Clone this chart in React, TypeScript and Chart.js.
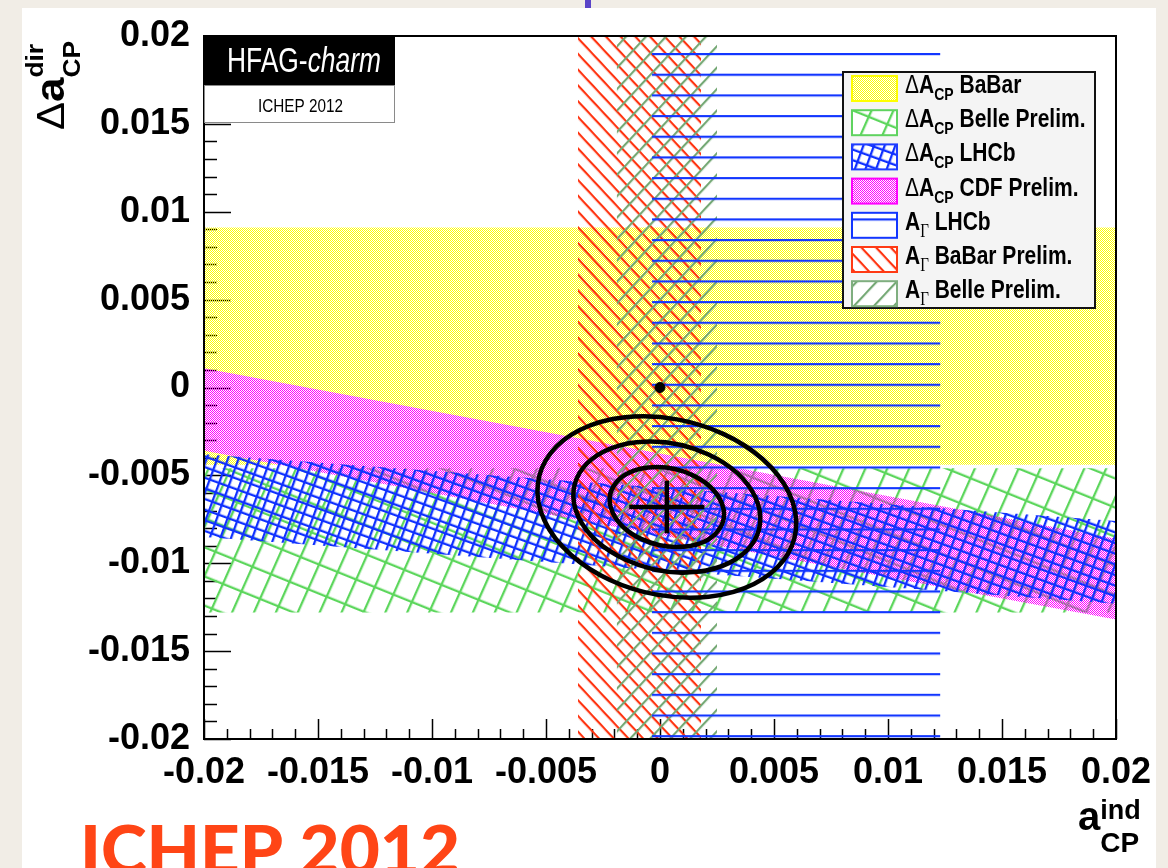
import React, { useEffect, useRef } from 'react';
import { Chart, registerables } from 'chart.js';

Chart.register(...registerables);

const CANVAS_W = 1168;
const CANVAS_H = 868;

// Axis ranges and ticks
const X_MIN = -0.02;
const X_MAX = 0.02;
const Y_MIN = -0.02;
const Y_MAX = 0.02;
const MAJOR_STEP = 0.005;
const MINOR_STEP = 0.001;

// ΔA_CP bands: Δa_dir edges at a_ind = -0.02 and a_ind = +0.02
const BAND_EDGES_X = [-0.02, 0.02];
const BELLE_DACP_HIGH = [-0.0046, -0.0046];
const BELLE_DACP_LOW = [-0.0128, -0.0128];
const BABAR_DACP_HIGH = [0.0091, 0.0091];
const BABAR_DACP_LOW = [-0.0044, -0.0044];
const CDF_DACP_HIGH = [0.0011, -0.0086];
const CDF_DACP_LOW = [-0.0036, -0.0132];
const LHCB_DACP_HIGH = [-0.0038, -0.0076];
const LHCB_DACP_LOW = [-0.0085, -0.0123];

// A_Γ bands: a_ind intervals
const LHCB_AGAMMA = [-0.00035, 0.0123];
const BABAR_AGAMMA = [-0.0036, 0.0018];
const BELLE_AGAMMA = [-0.0019, 0.0025];

// Combined fit
const FIT_CENTER = [0.0003, -0.0068];
const FIT_SIGMA = [0.00165, 0.0015];
const FIT_RHO = -0.18;
const CONTOUR_DCHI2 = [2.3, 6.18, 11.83];
const NO_CPV = [0, 0];

// Legend
const LEGEND_KIND = ['dacp', 'dacp', 'dacp', 'dacp', 'ag', 'ag', 'ag'];
const LEGEND_NAMES = ['BaBar', 'Belle Prelim.', 'LHCb', 'CDF Prelim.', 'LHCb', 'BaBar Prelim.', 'Belle Prelim.'];
const LEGEND_COLORS = ['#ffff00', '#5fd35f', '#1f3cff', '#ff00ff', '#1236ff', '#ff3a14', '#7fae7f'];

const SANS = '"Liberation Sans", Arial, Helvetica, sans-serif';
const SERIF = '"Liberation Serif", "Times New Roman", serif';

function makeTile(w: number, h: number) {
  const c = document.createElement('canvas');
  c.width = w;
  c.height = h;
  return c;
}

function dotPattern(color: string) {
  const c = makeTile(2, 2);
  const g = c.getContext('2d')!;
  g.fillStyle = color;
  g.fillRect(0, 0, 1, 1);
  g.fillRect(1, 1, 1, 1);
  return g.createPattern(c, 'repeat')!;
}

function hatchPattern(color: string, angle: number, spacing: number, width: number, offsetY = 0) {
  const n = Math.max(2, Math.round(spacing));
  const c = makeTile(8, n);
  const g = c.getContext('2d')!;
  g.fillStyle = color;
  g.fillRect(0, 0, 8, width);
  const p = g.createPattern(c, 'repeat')!;
  p.setTransform(new DOMMatrix().translate(0, offsetY).rotate(angle).scale(1, spacing / n));
  return p;
}

function gridPattern(color: string, a1: number, s1: number, a2: number, s2: number, width: number) {
  const tw = Math.round(s2);
  const th = Math.round(s1);
  const c = makeTile(tw, th);
  const g = c.getContext('2d')!;
  g.fillStyle = color;
  g.fillRect(0, 0, tw, width);
  g.fillRect(0, 0, width, th);
  const p = g.createPattern(c, 'repeat')!;
  const r1 = (a1 * Math.PI) / 180;
  const r2 = (a2 * Math.PI) / 180;
  const sp = Math.abs(Math.sin(r2 - r1));
  p.setTransform(
    new DOMMatrix([Math.cos(r1) / sp, Math.sin(r1) / sp, Math.cos(r2) / sp, Math.sin(r2) / sp, 0, 0])
  );
  return p;
}

type Part = { t: string; font: string; dy?: number; hold?: boolean };

function partsWidth(ctx: CanvasRenderingContext2D, parts: Part[]) {
  let cx = 0;
  let held = 0;
  for (const p of parts) {
    ctx.font = p.font;
    const w = ctx.measureText(p.t).width;
    if (p.hold) held = Math.max(held, w);
    else {
      cx += Math.max(w, held);
      held = 0;
    }
  }
  return cx;
}

function drawParts(
  ctx: CanvasRenderingContext2D,
  parts: Part[],
  x: number,
  y: number,
  opts: { width?: number; sy?: number; sx?: number; color?: string; rotate?: number } = {}
) {
  ctx.save();
  ctx.fillStyle = opts.color || '#000';
  ctx.textBaseline = 'alphabetic';
  ctx.textAlign = 'left';
  ctx.translate(x, y);
  if (opts.rotate) ctx.rotate(opts.rotate);
  let sx = opts.sx || 1;
  if (opts.width) sx = opts.width / partsWidth(ctx, parts);
  ctx.scale(sx, opts.sy || 1);
  let cx = 0;
  let held = 0;
  for (const p of parts) {
    ctx.font = p.font;
    ctx.fillText(p.t, cx, p.dy || 0);
    const w = ctx.measureText(p.t).width;
    if (p.hold) held = Math.max(held, w);
    else {
      cx += Math.max(w, held);
      held = 0;
    }
  }
  ctx.restore();
}

function fmtTick(v: number) {
  const r = Math.round(v * 1000) / 1000;
  return r === 0 ? '0' : String(r);
}

export default function App() {
  const ref = useRef<HTMLCanvasElement>(null);

  useEffect(() => {
    const canvas = ref.current!;
    const P = {
      babarDA: dotPattern('#ffff00'),
      cdfDA: dotPattern('#ff00ff'),
      lhcbDA: gridPattern('#0f30ff', 20, 9.5, -70, 9.5, 2.3),
      belleDA: gridPattern('#5cd65c', 22, 27, -66, 20, 2.3),
      lhcbAG: hatchPattern('#1236ff', 0, 20.67, 2.2, 53),
      babarAG: hatchPattern('#ff3310', 47, 10.75, 2.2),
      belleAG: hatchPattern('#74a874', -47, 14.6, 2.2),
    };
    const legendFills = [P.babarDA, P.belleDA, P.lhcbDA, P.cdfDA, P.lhcbAG, P.babarAG, P.belleAG];

    const lineDs = (data: { x: number; y: number }[], extra: any = {}) => ({
      type: 'line',
      data,
      borderColor: 'rgba(0,0,0,0)',
      borderWidth: 0,
      pointRadius: 0,
      pointHoverRadius: 0,
      fill: false,
      tension: 0,
      ...extra,
    });
    const bandEdge = (ys: number[]) => BAND_EDGES_X.map((x, i) => ({ x, y: ys[i] }));
    const verticalBand = (xs: number[]) => xs.map((x) => ({ x, y: Y_MAX }));

    // lower index = drawn on top
    const datasets: any[] = [
      lineDs(
        [
          { x: FIT_CENTER[0] - FIT_SIGMA[0], y: FIT_CENTER[1] },
          { x: FIT_CENTER[0] + FIT_SIGMA[0], y: FIT_CENTER[1] },
        ],
        { label: 'fit x', borderColor: '#000', borderWidth: 4.5 }
      ),
      lineDs(
        [
          { x: FIT_CENTER[0], y: FIT_CENTER[1] - FIT_SIGMA[1] },
          { x: FIT_CENTER[0], y: FIT_CENTER[1] + FIT_SIGMA[1] },
        ],
        { label: 'fit y', borderColor: '#000', borderWidth: 4.5 }
      ),
      {
        type: 'scatter',
        label: 'no CPV',
        data: [{ x: NO_CPV[0], y: NO_CPV[1] }],
        pointRadius: 5,
        pointBackgroundColor: '#000',
        backgroundColor: '#000',
        pointBorderColor: '#000',
        pointBorderWidth: 1,
        borderWidth: 0,
      },
      lineDs(verticalBand(LHCB_AGAMMA), { label: 'A_Γ LHCb', fill: 'start', backgroundColor: P.lhcbAG }),
      lineDs(verticalBand(BELLE_AGAMMA), { label: 'A_Γ Belle Prelim.', fill: 'start', backgroundColor: P.belleAG }),
      lineDs(verticalBand(BABAR_AGAMMA), { label: 'A_Γ BaBar Prelim.', fill: 'start', backgroundColor: P.babarAG }),
      lineDs(bandEdge(LHCB_DACP_HIGH), { label: 'ΔA_CP LHCb', fill: '+1', backgroundColor: P.lhcbDA }),
      lineDs(bandEdge(LHCB_DACP_LOW)),
      lineDs(bandEdge(CDF_DACP_HIGH), { label: 'ΔA_CP CDF Prelim.', fill: '+1', backgroundColor: P.cdfDA }),
      lineDs(bandEdge(CDF_DACP_LOW)),
      lineDs(bandEdge(BABAR_DACP_HIGH), { label: 'ΔA_CP BaBar', fill: '+1', backgroundColor: P.babarDA }),
      lineDs(bandEdge(BABAR_DACP_LOW)),
      lineDs(bandEdge(BELLE_DACP_HIGH), { label: 'ΔA_CP Belle Prelim.', fill: '+1', backgroundColor: P.belleDA }),
      lineDs(bandEdge(BELLE_DACP_LOW)),
    ];

    const decor = {
      id: 'decor',
      beforeDraw(chart: any) {
        const { ctx, chartArea: a, scales } = chart;
        const xs = scales.x;
        const ys = scales.y;
        ctx.save();
        ctx.strokeStyle = '#000';
        ctx.lineWidth = 1.5;
        ctx.beginPath();
        const nx = Math.round((X_MAX - X_MIN) / MINOR_STEP);
        const per = Math.round(MAJOR_STEP / MINOR_STEP);
        for (let i = 0; i <= nx; i++) {
          const px = Math.round(xs.getPixelForValue(X_MIN + i * MINOR_STEP)) + 0.5;
          const len = i % per === 0 ? 20 : 10;
          ctx.moveTo(px, a.bottom);
          ctx.lineTo(px, a.bottom - len);
        }
        const ny = Math.round((Y_MAX - Y_MIN) / MINOR_STEP);
        for (let i = 0; i <= ny; i++) {
          const py = Math.round(ys.getPixelForValue(Y_MIN + i * MINOR_STEP)) + 0.5;
          const len = i % per === 0 ? 27 : 13;
          ctx.moveTo(a.left, py);
          ctx.lineTo(a.left + len, py);
        }
        ctx.stroke();
        ctx.restore();
      },
      afterDatasetsDraw(chart: any) {
        const { ctx, chartArea: a, scales } = chart;
        const xs = scales.x;
        const ys = scales.y;
        const [cx, cy] = FIT_CENTER;
        const [sx, sy] = FIT_SIGMA;
        const cxx = sx * sx;
        const cyy = sy * sy;
        const cxy = FIT_RHO * sx * sy;
        const tr = cxx + cyy;
        const det = cxx * cyy - cxy * cxy;
        const disc = Math.sqrt(Math.max(0, (tr * tr) / 4 - det));
        const l1 = tr / 2 + disc;
        const l2 = tr / 2 - disc;
        const ang = Math.atan2(l1 - cxx, cxy);
        const px0 = xs.getPixelForValue(cx);
        const py0 = ys.getPixelForValue(cy);
        const kx = (xs.getPixelForValue(cx + 0.001) - px0) * 1000;
        const ky = (ys.getPixelForValue(cy + 0.001) - py0) * 1000;
        ctx.save();
        ctx.beginPath();
        ctx.rect(a.left, a.top, a.right - a.left, a.bottom - a.top);
        ctx.clip();
        ctx.strokeStyle = '#000';
        ctx.lineWidth = 4.5;
        for (const k of CONTOUR_DCHI2) {
          ctx.save();
          ctx.translate(px0, py0);
          ctx.scale(kx, ky);
          ctx.beginPath();
          ctx.ellipse(0, 0, Math.sqrt(k * l1), Math.sqrt(k * l2), ang, 0, Math.PI * 2);
          ctx.restore();
          ctx.stroke();
        }
        ctx.restore();
      },
      afterDraw(chart: any) {
        const { ctx, chartArea: a } = chart;
        ctx.save();
        // frame
        ctx.strokeStyle = '#000';
        ctx.lineWidth = 2;
        ctx.strokeRect(a.left, a.top, a.right - a.left, a.bottom - a.top);

        // HFAG label
        ctx.fillStyle = '#000';
        ctx.fillRect(204, 36, 191, 49);
        ctx.fillStyle = '#fff';
        ctx.fillRect(204, 85, 191, 38);
        ctx.strokeStyle = '#8a8a8a';
        ctx.lineWidth = 1;
        ctx.strokeRect(204.5, 85.5, 190, 37);
        drawParts(
          ctx,
          [
            { t: 'HFAG-', font: `26px ${SANS}` },
            { t: 'charm', font: `italic 26px ${SANS}` },
          ],
          227,
          72,
          { width: 154, sy: 1.33, color: '#fff' }
        );
        drawParts(ctx, [{ t: 'ICHEP 2012', font: `15px ${SANS}` }], 258, 112, { width: 85, sy: 1.2 });

        // legend
        ctx.fillStyle = '#f4f4f4';
        ctx.fillRect(843, 72, 252, 236);
        ctx.strokeStyle = '#111';
        ctx.lineWidth = 2;
        ctx.strokeRect(843, 72, 252, 236);
        for (let i = 0; i < LEGEND_NAMES.length; i++) {
          const top = 76 + i * 34.2;
          ctx.fillStyle = '#fff';
          ctx.fillRect(852, top, 45, 25);
          ctx.fillStyle = legendFills[i];
          ctx.fillRect(852, top, 45, 25);
          ctx.strokeStyle = LEGEND_COLORS[i];
          ctx.lineWidth = 2;
          ctx.strokeRect(852, top, 45, 25);
          const parts: Part[] =
            LEGEND_KIND[i] === 'dacp'
              ? [
                  { t: 'Δ', font: `21px ${SANS}` },
                  { t: 'A', font: `bold 21px ${SANS}` },
                  { t: 'CP', font: `bold 14px ${SANS}`, dy: 5.8 },
                  { t: ' ' + LEGEND_NAMES[i], font: `bold 21px ${SANS}` },
                ]
              : [
                  { t: 'A', font: `bold 21px ${SANS}` },
                  { t: 'Γ', font: `15px ${SERIF}`, dy: 5.8 },
                  { t: ' ' + LEGEND_NAMES[i], font: `bold 21px ${SANS}` },
                ];
          drawParts(ctx, parts, 905, 93 + i * 34.2, { sy: 1.2 });
        }

        // y axis title
        drawParts(
          ctx,
          [
            { t: 'Δ', font: `38px ${SANS}` },
            { t: 'a', font: `bold 40px ${SANS}` },
            { t: 'CP', font: `bold 24px ${SANS}`, dy: 16, hold: true },
            { t: 'dir', font: `bold 24px ${SANS}`, dy: -21 },
          ],
          64,
          130,
          { rotate: -Math.PI / 2, sx: 1.1 }
        );

        // x axis title
        drawParts(
          ctx,
          [
            { t: 'a', font: `bold 40px ${SANS}` },
            { t: 'ind', font: `bold 27px ${SANS}`, dy: -11, hold: true },
            { t: 'CP', font: `bold 28px ${SANS}`, dy: 22 },
          ],
          1078,
          830
        );

        // conference stamp
        drawParts(ctx, [{ t: 'ICHEP 2012', font: `900 64px Lato, ${SANS}` }], 80, 874, {
          width: 380,
          sy: 1.05,
          color: '#ff4516',
        });
        ctx.restore();
      },
    };

    const tickFont = { family: SANS, size: 36, weight: 'bold' as const };

    const chart = new Chart(canvas, {
      type: 'line',
      data: { datasets },
      options: {
        responsive: false,
        animation: false,
        events: [],
        layout: { padding: { left: 0, top: 36, right: 52, bottom: 0 } },
        plugins: {
          legend: { display: false },
          tooltip: { enabled: false },
          title: { display: false },
          filler: { drawTime: 'beforeDatasetDraw' },
        },
        scales: {
          x: {
            type: 'linear',
            min: X_MIN,
            max: X_MAX,
            afterFit: (s: any) => {
              s.height = 129;
            },
            grid: { display: false, drawTicks: false },
            border: { display: false },
            ticks: {
              stepSize: MAJOR_STEP,
              autoSkip: false,
              maxRotation: 0,
              minRotation: 0,
              padding: 12,
              color: '#000',
              font: tickFont,
              callback: (v: any) => fmtTick(Number(v)),
            },
          },
          y: {
            type: 'linear',
            min: Y_MIN,
            max: Y_MAX,
            afterFit: (s: any) => {
              s.width = 204;
            },
            grid: { display: false, drawTicks: false },
            border: { display: false },
            ticks: {
              stepSize: MAJOR_STEP,
              autoSkip: false,
              padding: 14,
              color: '#000',
              font: tickFont,
              callback: (v: any) => fmtTick(Number(v)),
            },
          },
        },
      } as any,
      plugins: [decor],
    } as any);

    return () => chart.destroy();
  }, []);

  return (
    <div
      style={{
        position: 'fixed',
        left: 0,
        top: 0,
        width: CANVAS_W,
        height: CANVAS_H,
        background: '#f1ede6',
        overflow: 'hidden',
      }}
    >
      <div style={{ position: 'absolute', left: 22, top: 8, width: 1134, height: 860, background: '#fff' }} />
      <div style={{ position: 'absolute', left: 585, top: 0, width: 6, height: 8, background: '#5a44c8' }} />
      <canvas
        ref={ref}
        width={CANVAS_W}
        height={CANVAS_H}
        style={{ position: 'absolute', left: 0, top: 0, width: CANVAS_W, height: CANVAS_H }}
      />
    </div>
  );
}
